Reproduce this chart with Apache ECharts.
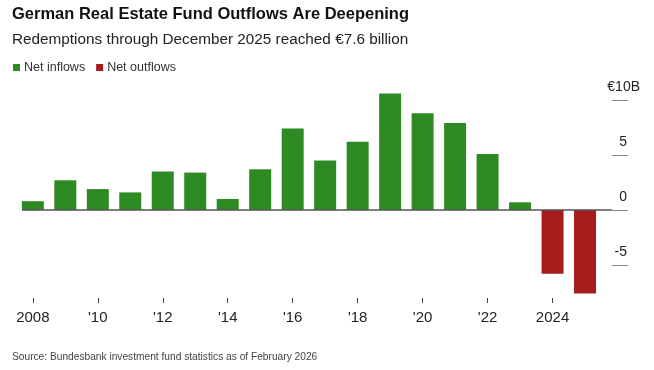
<!DOCTYPE html>
<html>
<head>
<meta charset="utf-8">
<script src="https://cdn.jsdelivr.net/npm/echarts@6/dist/echarts.min.js"></script>
<style>
html,body{margin:0;padding:0;background:#fff;}
#chart{width:654px;height:370px;}
</style>
</head>
<body>
<div id="chart"></div>
<script>
// Data
var years = [2008,2009,2010,2011,2012,2013,2014,2015,2016,2017,2018,2019,2020,2021,2022,2023,2024,2025];
var netFlows = [0.8,2.7,1.9,1.6,3.5,3.4,1.0,3.7,7.4,4.5,6.2,10.6,8.8,7.9,5.1,0.7,-5.8,-7.6];
var xTickValues = [2008,2010,2012,2014,2016,2018,2020,2022,2024];
var xTickLabels = ['2008',"'10","'12","'14","'16","'18","'20","'22",'2024'];
var yTickValues = [-5,0,5,10];
var yTickLabels = ['-5','0','5','€10B'];

var FONT = '"Liberation Sans", Arial, sans-serif';
var GREEN = '#2e8a22', RED = '#a61c1c';

var inflowData = years.map(function(y,i){ return netFlows[i] >= 0 ? [y, netFlows[i]] : [y, null]; });
var outflowData = years.map(function(y,i){ return netFlows[i] < 0 ? [y, netFlows[i]] : [y, null]; });

var chart = echarts.init(document.getElementById('chart'), null, {renderer:'canvas'});
chart.setOption({
  backgroundColor:'#fff',
  animation:false,
  textStyle:{fontFamily:FONT},
  title:[
    {text:'German Real Estate Fund Outflows Are Deepening', left:12, top:6, padding:0,
     textStyle:{fontFamily:FONT, fontSize:16.5, fontWeight:'bold', color:'#111'}},
    {text:'Redemptions through December 2025 reached €7.6 billion', left:12, top:32, padding:0,
     textStyle:{fontFamily:FONT, fontSize:15.3, fontWeight:'normal', color:'#222'}},
    {text:'Source: Bundesbank investment fund statistics as of February 2026', left:12, top:352, padding:0,
     textStyle:{fontFamily:FONT, fontSize:10.2, fontWeight:'normal', color:'#444'}}
  ],
  legend:{
    data:['Net inflows','Net outflows'], left:13, top:61, padding:0,
    icon:'rect', itemWidth:7, itemHeight:7, itemGap:11,
    textStyle:{fontFamily:FONT, fontSize:12.5, color:'#333', padding:[0,0,0,-1]}
  },
  grid:{left:22, right:42, top:89, bottom:72, containLabel:false},
  xAxis:{
    type:'value', min:2007.667, max:2025.83, position:'bottom',
    axisLine:{show:false, onZero:false}, splitLine:{show:false},
    axisTick:{show:true, length:5, customValues:xTickValues, lineStyle:{color:'#444', width:1}},
    axisLabel:{customValues:xTickValues, margin:12, fontSize:15, color:'#222', fontFamily:FONT,
      formatter:function(v){ var i = xTickValues.indexOf(Math.round(v)); return i>=0 ? xTickLabels[i] : ''; }}
  },
  yAxis:{
    type:'value', min:-8, max:11, position:'right',
    axisLine:{show:false}, splitLine:{show:false},
    axisTick:{show:true, inside:false, length:16, customValues:yTickValues, lineStyle:{color:'#888', width:1}},
    axisLabel:{customValues:yTickValues, margin:28, align:'right', verticalAlign:'bottom',
      fontSize:14, color:'#222', fontFamily:FONT, padding:[0,0,6,0],
      formatter:function(v){ var i = yTickValues.indexOf(v); if(i<0) return ''; return v===10 ? yTickLabels[i] : '{n|'+yTickLabels[i]+'}'; },
      rich:{n:{fontSize:14, color:'#222', fontFamily:FONT, padding:[0,13,0,0]}}
    }
  },
  series:[
    {name:'Net inflows', type:'bar', data:inflowData, barWidth:22, barGap:'-100%',
     itemStyle:{color:GREEN},
     markLine:{silent:true, symbol:'none', label:{show:false},
       lineStyle:{color:'#555', width:1.5, type:'solid'}, data:[{yAxis:0}]}},
    {name:'Net outflows', type:'bar', data:outflowData, barWidth:22, barGap:'-100%',
     itemStyle:{color:RED}}
  ]
});
</script>
</body>
</html>
